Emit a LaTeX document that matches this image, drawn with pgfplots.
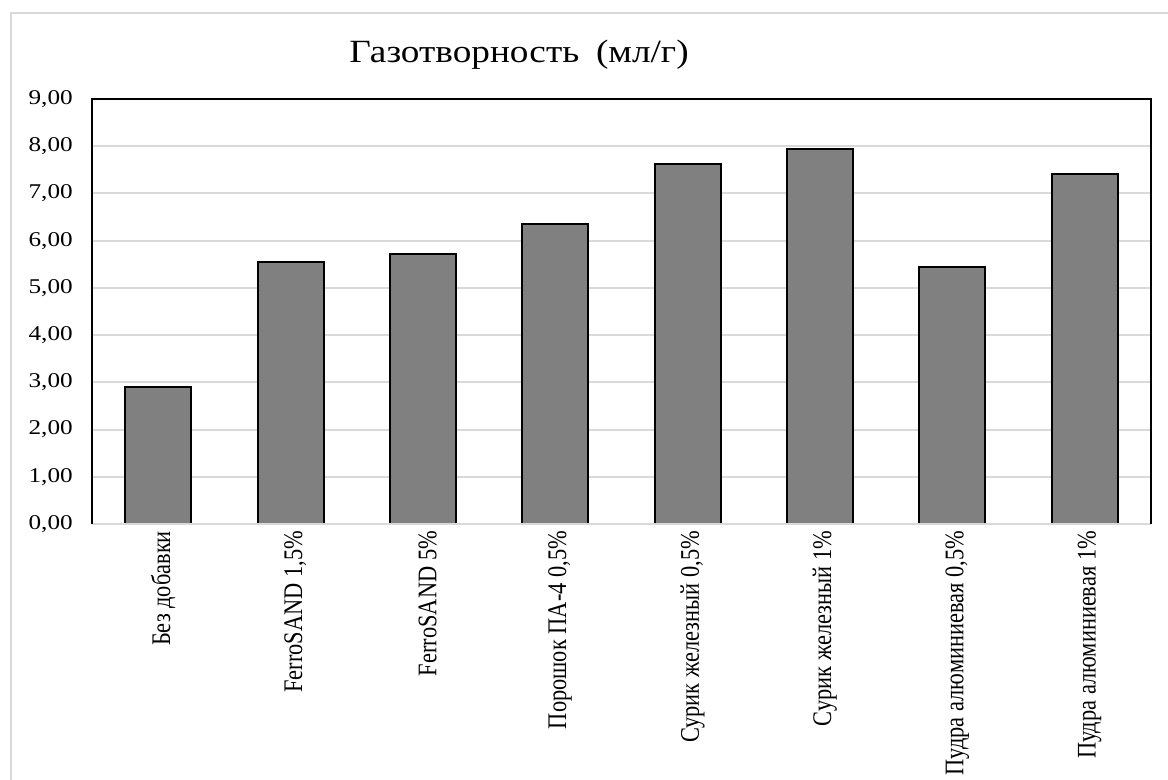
\documentclass[border=0pt]{standalone}
\usepackage{fontspec}
\setmainfont{Liberation Serif}
\usepackage{pgfplots}
\pgfplotsset{compat=1.18}

\definecolor{gridgray}{HTML}{D9D9D9}
\definecolor{bargray}{HTML}{808080}

\begin{document}
\begin{tikzpicture}
% page size and the chart-area border
\useasboundingbox (0pt,0pt) rectangle (584pt,390pt);
\draw[gridgray, line width=1pt] (5.5pt,0pt) -- (5.5pt,383.5pt) -- (584pt,383.5pt);

% chart title
\node[anchor=base, inner sep=0pt, xscale=1.15, font=\fontsize{16.2}{19}\selectfont]
  at (259.5pt,358.5pt) {Газотворность\hspace{0.2em} (мл/г)};

\begin{axis}[
  at={(46pt,128pt)}, anchor=south west,
  scale only axis, width=529.5pt, height=212.5pt,
  clip=false,
  ybar, bar width=33pt,
  xmin=-0.5, xmax=7.5,
  ymin=0, ymax=9,
  ytick={0,1,...,9},
  xtick=data,
  xticklabels={Без добавки, FerroSAND 1{,}5\%, FerroSAND 5\%, Порошок ПА-4 0{,}5\%,
    Сурик железный 0{,}5\%, Сурик железный 1\%, Пудра алюминиевая 0{,}5\%,
    Пудра алюминиевая 1\%},
  ymajorgrids,
  grid style={gridgray, line width=1pt},
  major tick length=0pt,
  axis line style={draw=none},
  /pgf/number format/assume math mode=true,
  yticklabel style={/pgf/number format/fixed, /pgf/number format/fixed zerofill,
    /pgf/number format/precision=2, /pgf/number format/use comma,
    font=\fontsize{10.5}{12}\selectfont, xscale=1.2, xshift=-4.5pt},
  xticklabel style={rotate=90, anchor=east, yscale=1.2,
    font=\fontsize{11.2}{13}\selectfont, yshift=-2pt},
]
\addplot[fill=bargray, draw=black, line width=1pt]
  coordinates {(0,2.90) (1,5.54) (2,5.71) (3,6.35) (4,7.63) (5,7.94) (6,5.45) (7,7.42)};
% plot-area frame: black on three sides, light grey base line
\draw[gridgray, line width=1pt] (rel axis cs:0,0) -- (rel axis cs:1,0);
\draw[black, line width=1.2pt] (rel axis cs:0,0) -- (rel axis cs:0,1)
  -- (rel axis cs:1,1) -- (rel axis cs:1,0);
\end{axis}
\end{tikzpicture}
\end{document}
